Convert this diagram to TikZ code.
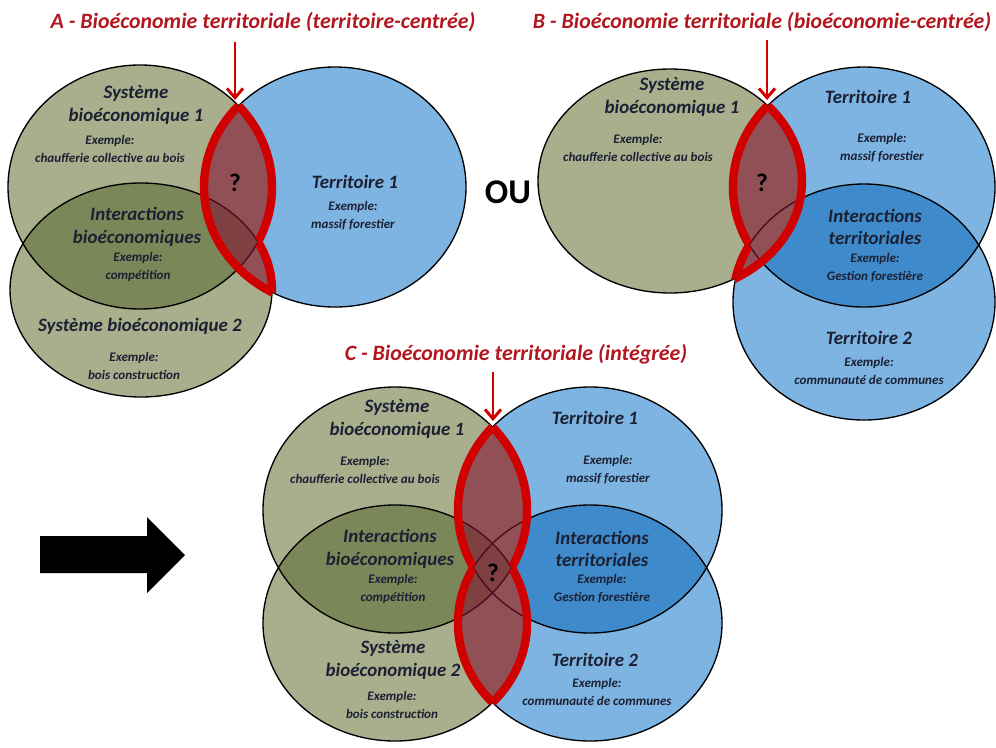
\documentclass[tikz,border=0pt]{standalone}
\usepackage{fontspec}
\setmainfont{Carlito}
\usetikzlibrary{arrows.meta}

\definecolor{sysgreen}{RGB}{169,174,141}
\definecolor{sysdark}{RGB}{123,134,89}
\definecolor{terblue}{RGB}{126,180,226}
\definecolor{terdark}{RGB}{63,138,203}
\definecolor{rimred}{RGB}{208,0,0}
\definecolor{zonered}{RGB}{128,18,50}
\definecolor{titlered}{RGB}{178,22,30}
\definecolor{ink}{RGB}{28,32,51}

\tikzset{
	zone/.style n args={4}{insert path={(#1,#2) ellipse [x radius=#3, y radius=#4]}},
	zone cw/.style n args={4}{insert path={({#1+#3},#2) arc [start angle=0, end angle=-360, x radius=#3, y radius=#4]}},
	page/.style={insert path={(0,0) -- (996,0) -- (996,747) -- (0,747) -- cycle}},
	outline/.style={draw=black, line width=1pt},
	rim/.style={draw=rimred, line width=6.3pt},
	redzone/.style={fill=zonered, fill opacity=0.6},
	pointer/.style={draw=rimred, line width=2.2pt, -{Straight Barb[length=7pt, width=12pt, line width=2.2pt]}},
	heading/.style={text=titlered, font=\bfseries\itshape\fontsize{16.4}{18}\selectfont},
	tag/.style={text=ink, align=center, font=\bfseries\itshape\fontsize{14.2}{17}\selectfont},
	hint/.style={text=ink, align=center, font=\bfseries\itshape\fontsize{9.8}{13.5}\selectfont},
	query/.style={text=black, font=\bfseries\fontsize{19}{19}\selectfont}
}

\begin{document}
\begin{tikzpicture}[x=0.75pt,y=0.75pt,yscale=-1,xscale=1]
\path[use as bounding box] (0,0) rectangle (996,747);

% A - territoire-centree
\fill[terblue, zone={335}{187}{131}{120}];
\fill[sysgreen, zone={140}{187}{132}{122}, zone={141}{290}{131}{107}];
\begin{scope}
\clip[zone={140}{187}{132}{122}];
\fill[sysdark, zone={141}{290}{131}{107}];
\end{scope}
\draw[outline, zone={335}{187}{131}{120}];
\draw[outline, zone={140}{187}{132}{122}];
\draw[outline, zone={141}{290}{131}{107}];

\begin{scope}
\clip[zone={335}{187}{131}{120}];
\fill[redzone, zone={140}{187}{132}{122}, zone={141}{290}{131}{107}];
\end{scope}
\begin{scope}
\clip[zone={140}{187}{132}{122}, zone={141}{290}{131}{107}];
\draw[rim, zone={335}{187}{131}{120}];
\end{scope}
\begin{scope}
\clip[zone={335}{187}{131}{120}];
\begin{scope}
\clip[page, zone cw={141}{290}{131}{107}];
\draw[rim, zone={140}{187}{132}{122}];
\end{scope}
\begin{scope}
\clip[page, zone cw={140}{187}{132}{122}];
\draw[rim, zone={141}{290}{131}{107}];
\end{scope}
\end{scope}

\node[heading] (headA) at (263,22) {A - Bioéconomie territoriale (territoire-centrée)};
\coordinate (tailA) at (235,42);
\coordinate (tipA) at (235,100);
\draw[pointer] (tailA) -- (tipA);
\node[tag] (sysA1) at (136,105) {Système\\bioéconomique 1};
\node[hint] (exA1) at (110,149) {Exemple:\\chaufferie collective au bois};
\node[query] (qA) at (235,183) {?};
\node[tag] (terA1) at (355,182) {Territoire 1};
\node[hint] (exA2) at (353,216) {Exemple:\\massif forestier};
\node[tag] (intA) at (137,227) {Interactions\\bioéconomiques};
\node[hint] (exA3) at (138,267) {Exemple:\\compétition};
\node[tag] (sysA2) at (140,326) {Système bioéconomique 2};
\node[hint] (exA4) at (134,366) {Exemple:\\bois construction};

\node[font=\bfseries\fontsize{26}{26}\selectfont] (ou) at (508,192) {OU};

% B - bioeconomie-centree
\fill[terblue, zone={864}{187}{131}{120}, zone={864}{302}{131}{118}];
\begin{scope}
\clip[zone={864}{187}{131}{120}];
\fill[terdark, zone={864}{302}{131}{118}];
\end{scope}
\fill[sysgreen, zone={670}{181}{132}{112}];
\draw[outline, zone={864}{187}{131}{120}];
\draw[outline, zone={864}{302}{131}{118}];
\draw[outline, zone={670}{181}{132}{112}];

\begin{scope}
\clip[zone={670}{181}{132}{112}];
\fill[redzone, zone={864}{187}{131}{120}, zone={864}{302}{131}{118}];
\end{scope}
\begin{scope}
\clip[zone={864}{187}{131}{120}, zone={864}{302}{131}{118}];
\draw[rim, zone={670}{181}{132}{112}];
\end{scope}
\begin{scope}
\clip[zone={670}{181}{132}{112}];
\begin{scope}
\clip[page, zone cw={864}{302}{131}{118}];
\draw[rim, zone={864}{187}{131}{120}];
\end{scope}
\begin{scope}
\clip[page, zone cw={864}{187}{131}{120}];
\draw[rim, zone={864}{302}{131}{118}];
\end{scope}
\end{scope}

\node[heading] (headB) at (762,22) {B - Bioéconomie territoriale (bioéconomie-centrée)};
\coordinate (tailB) at (767,40);
\coordinate (tipB) at (767,100);
\draw[pointer] (tailB) -- (tipB);
\node[tag] (sysB1) at (672,97) {Système\\bioéconomique 1};
\node[hint] (exB1) at (638,148) {Exemple:\\chaufferie collective au bois};
\node[query] (qB) at (762,183) {?};
\node[tag] (terB1) at (868,97) {Territoire 1};
\node[hint] (exB2) at (882,148) {Exemple:\\massif forestier};
\node[tag] (intB) at (875,227) {Interactions\\territoriales};
\node[hint] (exB3) at (875,268) {Exemple:\\Gestion forestière};
\node[tag] (terB2) at (869,338) {Territoire 2};
\node[hint] (exB4) at (869,371) {Exemple:\\communauté de communes};

% C - integree
\fill[terblue, zone={590}{510}{132}{123}, zone={590}{623}{132}{118}];
\begin{scope}
\clip[zone={590}{510}{132}{123}];
\fill[terdark, zone={590}{623}{132}{118}];
\end{scope}
\fill[sysgreen, zone={395}{510}{132}{123}, zone={395}{623}{132}{118}];
\begin{scope}
\clip[zone={395}{510}{132}{123}];
\fill[sysdark, zone={395}{623}{132}{118}];
\end{scope}
\draw[outline, zone={590}{510}{132}{123}];
\draw[outline, zone={590}{623}{132}{118}];
\draw[outline, zone={395}{510}{132}{123}];
\draw[outline, zone={395}{623}{132}{118}];

\begin{scope}
\clip[zone={590}{510}{132}{123}, zone={590}{623}{132}{118}];
\fill[redzone, zone={395}{510}{132}{123}, zone={395}{623}{132}{118}];
\end{scope}
\begin{scope}
\clip[zone={395}{510}{132}{123}, zone={395}{623}{132}{118}];
\begin{scope}
\clip[page, zone cw={590}{623}{132}{118}];
\draw[rim, zone={590}{510}{132}{123}];
\end{scope}
\begin{scope}
\clip[page, zone cw={590}{510}{132}{123}];
\draw[rim, zone={590}{623}{132}{118}];
\end{scope}
\end{scope}
\begin{scope}
\clip[zone={590}{510}{132}{123}, zone={590}{623}{132}{118}];
\begin{scope}
\clip[page, zone cw={395}{623}{132}{118}];
\draw[rim, zone={395}{510}{132}{123}];
\end{scope}
\begin{scope}
\clip[page, zone cw={395}{510}{132}{123}];
\draw[rim, zone={395}{623}{132}{118}];
\end{scope}
\end{scope}

\node[heading] (headC) at (516,354) {C - Bioéconomie territoriale (intégrée)};
\coordinate (tailC) at (493,372);
\coordinate (tipC) at (493,421);
\draw[pointer] (tailC) -- (tipC);
\node[tag] (sysC1) at (397,419) {Système\\bioéconomique 1};
\node[hint] (exC1) at (365,470) {Exemple:\\chaufferie collective au bois};
\node[tag] (terC1) at (595,418) {Territoire 1};
\node[hint] (exC2) at (608,470) {Exemple:\\massif forestier};
\node[tag] (intC1) at (390,549) {Interactions\\bioéconomiques};
\node[hint] (exC3) at (393,589) {Exemple:\\compétition};
\node[query] (qC) at (493,573) {?};
\node[tag] (intC2) at (602,549) {Interactions\\territoriales};
\node[hint] (exC4) at (602,589) {Exemple:\\Gestion forestière};
\node[tag] (sysC2) at (393,660) {Système\\bioéconomique 2};
\node[hint] (exC5) at (392,705) {Exemple:\\bois construction};
\node[tag] (terC2) at (595,660) {Territoire 2};
\node[hint] (exC6) at (597,692) {Exemple:\\communauté de communes};

% big arrow
\fill[black] (40,536) -- (147,536) -- (147,517) -- (185,555) -- (147,593) -- (147,573) -- (40,573) -- cycle;

\end{tikzpicture}
\end{document}
